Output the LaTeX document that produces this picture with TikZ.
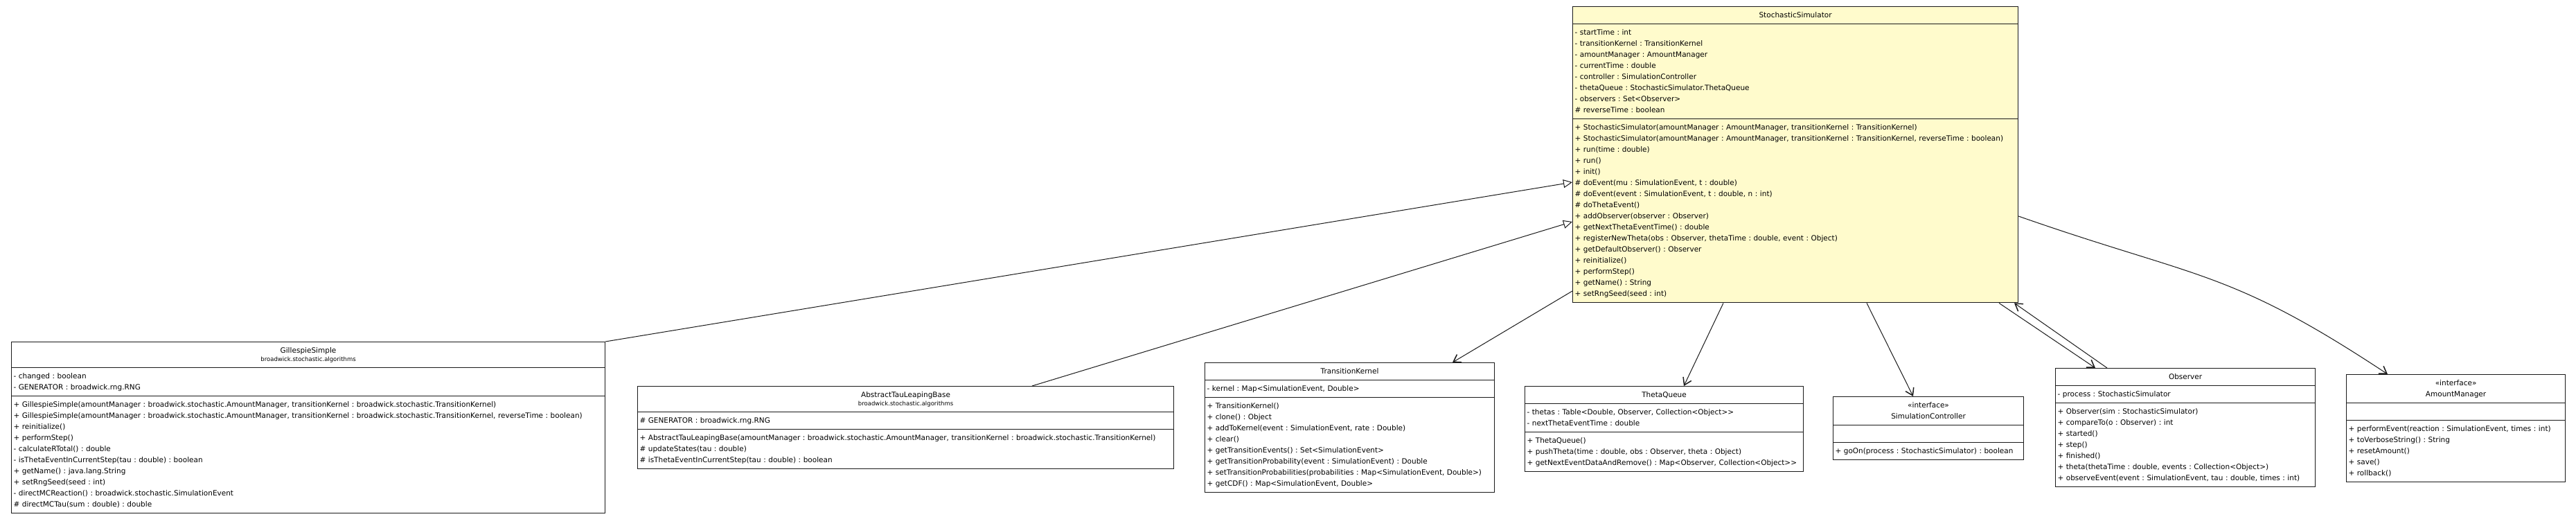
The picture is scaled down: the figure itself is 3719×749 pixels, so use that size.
\documentclass[tikz,border=0pt]{standalone}
\usepackage{fontspec}
\setmainfont{DejaVu Sans}
\usepackage{tikz}
\usetikzlibrary{shapes.multipart,arrows.meta,calc}
\definecolor{simyellow}{HTML}{FFFBCC}
\definecolor{umlline}{HTML}{1A1A1A}
\newcommand{\umlname}[1]{\makebox[\hsize]{\strut #1}}
\newcommand{\pkgtext}[1]{\makebox[\hsize]{\fontsize{8.5}{10}\selectfont #1}}
\hyphenpenalty=10000
\exhyphenpenalty=10000

\begin{document}
\begin{tikzpicture}[x=1pt, y=-1pt,
  umlclass/.style={rectangle split, rectangle split parts=3, draw=umlline,
             fill=white, line width=1.1pt, text width=#1, align=left,
             anchor=north west, inner xsep=3pt, inner ysep=4pt,
             font=\fontsize{10.5}{16}\selectfont\frenchspacing},
  gen/.style={draw=umlline, line width=1pt,
              -{Triangle[open, length=13pt, width=12pt, fill=white]}},
  assoc/.style={draw=umlline, line width=1pt,
                -{Straight Barb[length=10pt, width=13pt, line width=1.5pt]}}
]
\useasboundingbox (0,0) rectangle (3719,749);

\node[umlclass=637, fill=simyellow] (ss) at (2270,9)
  {\umlname{StochasticSimulator}
   \nodepart{second}\strut - startTime : int\\
   - transitionKernel : TransitionKernel\\
   - amountManager : AmountManager\\
   - currentTime : double\\
   - controller : SimulationController\\
   - thetaQueue : StochasticSimulator.ThetaQueue\\
   - observers : Set<Observer>\\
   \# reverseTime : boolean\strut
   \nodepart{third}\strut + StochasticSimulator(amountManager : AmountManager, transitionKernel : TransitionKernel)\\
   + StochasticSimulator(amountManager : AmountManager, transitionKernel : TransitionKernel, reverseTime : boolean)\\
   + run(time : double)\\
   + run()\\
   + init()\\
   \# doEvent(mu : SimulationEvent, t : double)\\
   \# doEvent(event : SimulationEvent, t : double, n : int)\\
   \# doThetaEvent()\\
   + addObserver(observer : Observer)\\
   + getNextThetaEventTime() : double\\
   + registerNewTheta(obs : Observer, thetaTime : double, event : Object)\\
   + getDefaultObserver() : Observer\\
   + reinitialize()\\
   + performStep()\\
   + getName() : String\\
   + setRngSeed(seed : int)\strut};

\node[umlclass=851] (gs) at (16,493)
  {\umlname{GillespieSimple}\\[-4pt]\pkgtext{broadwick.stochastic.algorithms}\strut
   \nodepart{second}\strut - changed : boolean\\
   - GENERATOR : broadwick.rng.RNG\strut
   \nodepart{third}\strut + GillespieSimple(amountManager : broadwick.stochastic.AmountManager, transitionKernel : broadwick.stochastic.TransitionKernel)\\
   + GillespieSimple(amountManager : broadwick.stochastic.AmountManager, transitionKernel : broadwick.stochastic.TransitionKernel, reverseTime : boolean)\\
   + reinitialize()\\
   + performStep()\\
   - calculateRTotal() : double\\
   - isThetaEventInCurrentStep(tau : double) : boolean\\
   + getName() : java.lang.String\\
   + setRngSeed(seed : int)\\
   - directMCReaction() : broadwick.stochastic.SimulationEvent\\
   \# directMCTau(sum : double) : double\strut};

\node[umlclass=768] (atlb) at (920,557)
  {\umlname{AbstractTauLeapingBase}\\[-4pt]\pkgtext{broadwick.stochastic.algorithms}\strut
   \nodepart{second}\strut\# GENERATOR : broadwick.rng.RNG\strut
   \nodepart{third}\strut + AbstractTauLeapingBase(amountManager : broadwick.stochastic.AmountManager, transitionKernel : broadwick.stochastic.TransitionKernel)\\
   \# updateStates(tau : double)\\
   \# isThetaEventInCurrentStep(tau : double) : boolean\strut};

\node[umlclass=412] (tk) at (1739,523)
  {\umlname{TransitionKernel}
   \nodepart{second}\strut - kernel : Map<SimulationEvent, Double>\strut
   \nodepart{third}\strut + TransitionKernel()\\
   + clone() : Object\\
   + addToKernel(event : SimulationEvent, rate : Double)\\
   + clear()\\
   + getTransitionEvents() : Set<SimulationEvent>\\
   + getTransitionProbability(event : SimulationEvent) : Double\\
   + setTransitionProbabilities(probabilities : Map<SimulationEvent, Double>)\\
   + getCDF() : Map<SimulationEvent, Double>\strut};

\node[umlclass=396] (tq) at (2201,557)
  {\umlname{ThetaQueue}
   \nodepart{second}\strut - thetas : Table<Double, Observer, Collection<Object>{}>\\
   - nextThetaEventTime : double\strut
   \nodepart{third}\strut + ThetaQueue()\\
   + pushTheta(time : double, obs : Observer, theta : Object)\\
   + getNextEventDataAndRemove() : Map<Observer, Collection<Object>{}>\strut};

\node[umlclass=269] (sc) at (2646,572)
  {\umlname{«interface»}\\\umlname{SimulationController}
   \nodepart{second}\strut
   \nodepart{third}\strut + goOn(process : StochasticSimulator) : boolean\strut};

\node[umlclass=369] (obs) at (2967,531)
  {\umlname{Observer}
   \nodepart{second}\strut - process : StochasticSimulator\strut
   \nodepart{third}\strut + Observer(sim : StochasticSimulator)\\
   + compareTo(o : Observer) : int\\
   + started()\\
   + step()\\
   + finished()\\
   + theta(thetaTime : double, events : Collection<Object>)\\
   + observeEvent(event : SimulationEvent, tau : double, times : int)\strut};

\node[umlclass=310] (am) at (3387,540)
  {\umlname{«interface»}\\\umlname{AmountManager}
   \nodepart{second}\strut
   \nodepart{third}\strut + performEvent(reaction : SimulationEvent, times : int)\\
   + toVerboseString() : String\\
   + resetAmount()\\
   + save()\\
   + rollback()\strut};

%% generalisation
\draw[gen] (gs.north east) -- (ss.west |- 0,263);
\draw[gen] (atlb.north -| 1490,0) -- (ss.west |- 0,320);

%% associations
\draw[assoc] (ss.west |- 0,420) -- (tk.north -| 2097,0);
\draw[assoc] (ss.south -| 2488,0) -- (tq.north -| 2431,0);
\draw[assoc] (ss.south -| 2695,0) -- (sc.north -| 2762,0);
\draw[assoc] (ss.south -| 2886,0) -- (obs.north -| 3025,0);
\draw[assoc] (obs.north -| 3042,0) -- (ss.south -| 2908,0);
\draw[assoc] (ss.east |- 0,312) .. controls +(260,91) and +(-230,-152) .. (am.north -| 3447,0);

\end{tikzpicture}
\end{document}
